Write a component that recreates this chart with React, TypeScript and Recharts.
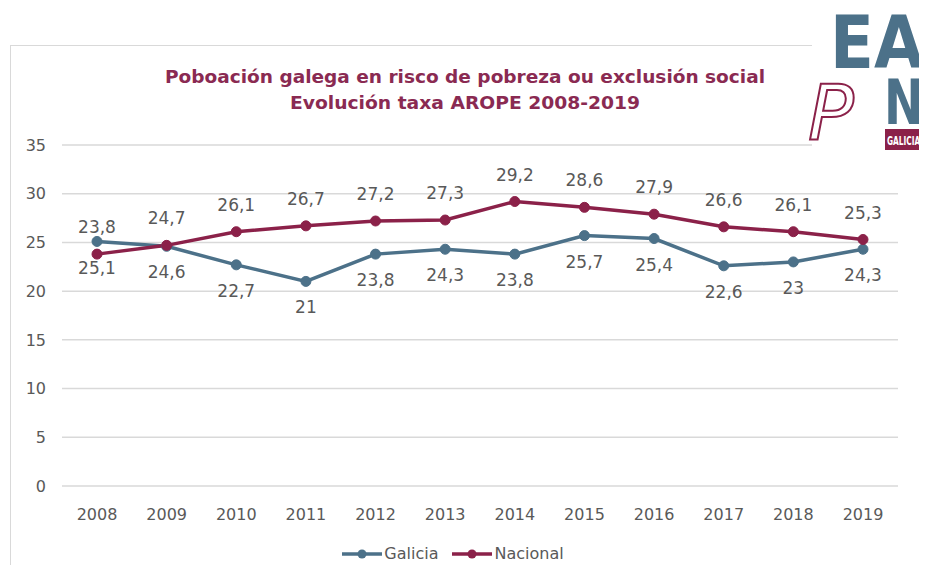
import { LineChart, Line, XAxis, YAxis, CartesianGrid, Legend, LabelList } from 'recharts';

const YEARS = ['2008', '2009', '2010', '2011', '2012', '2013', '2014', '2015', '2016', '2017', '2018', '2019'];
const GALICIA = [25.1, 24.6, 22.7, 21, 23.8, 24.3, 23.8, 25.7, 25.4, 22.6, 23, 24.3];
const NACIONAL = [23.8, 24.7, 26.1, 26.7, 27.2, 27.3, 29.2, 28.6, 27.9, 26.6, 26.1, 25.3];
const Y_TICKS = [0, 5, 10, 15, 20, 25, 30, 35];

const BLUE = '#4c7189';
const MAROON = '#8b2149';
const TEXT = '#595959';
const FONT = '"DejaVu Sans", sans-serif';

const data = YEARS.map((year, i) => ({ year, galicia: GALICIA[i], nacional: NACIONAL[i] }));

const fmt = (v: unknown) => String(v).replace('.', ',');

const SERIES = [
  { key: 'galicia', name: 'Galicia', color: BLUE },
  { key: 'nacional', name: 'Nacional', color: MAROON },
];

function LegendContent() {
  return (
    <div style={{ display: 'flex', justifyContent: 'center', gap: 14, fontFamily: FONT, fontSize: 16, color: TEXT, paddingLeft: 8, paddingTop: 6 }}>
      {SERIES.map((s) => (
        <span key={s.key} style={{ display: 'inline-flex', alignItems: 'center', gap: 2 }}>
          <svg width={40} height={12}>
            <line x1={0} y1={6} x2={40} y2={6} stroke={s.color} strokeWidth={3.5} />
            <circle cx={20} cy={6} r={4.5} fill={s.color} />
          </svg>
          {s.name}
        </span>
      ))}
    </div>
  );
}

export default function App() {
  return (
    <div style={{ position: 'relative', width: 927, height: 573, margin: -8, background: '#fff', overflow: 'hidden' }}>
      {/* frame */}
      <div style={{ position: 'absolute', left: 10, top: 45, width: 911, height: 560, border: '1px solid #d9d9d9' }} />

      <div style={{ position: 'absolute', left: 0, top: 0 }}>
        <LineChart width={927} height={573} data={data} margin={{ top: 145, right: 29, left: 0, bottom: 5 }}>
          <CartesianGrid vertical={false} stroke="#d9d9d9" strokeWidth={1.5} />
          <XAxis
            dataKey="year"
            axisLine={false}
            tickLine={false}
            tickSize={0}
            tickMargin={23}
            height={52}
            padding={{ left: 35, right: 35 }}
            tick={{ fill: TEXT, fontSize: 16, fontFamily: FONT }}
          />
          <YAxis
            domain={[0, 35]}
            ticks={Y_TICKS}
            width={62}
            axisLine={false}
            tickLine={false}
            tickSize={0}
            tickMargin={16}
            tick={{ fill: TEXT, fontSize: 16, fontFamily: FONT }}
          />
          <Legend verticalAlign="bottom" height={30} content={() => <LegendContent />} />
          <Line
            dataKey="galicia"
            name="Galicia"
            stroke={BLUE}
            strokeWidth={3.5}
            dot={{ r: 5, fill: BLUE, stroke: BLUE, strokeWidth: 1 }}
            isAnimationActive={false}
          >
            <LabelList dataKey="galicia" position="bottom" offset={20} formatter={fmt} fill={TEXT} fontSize={17} fontFamily={FONT} />
          </Line>
          <Line
            dataKey="nacional"
            name="Nacional"
            stroke={MAROON}
            strokeWidth={3.5}
            dot={{ r: 5, fill: MAROON, stroke: MAROON, strokeWidth: 1 }}
            isAnimationActive={false}
          >
            <LabelList dataKey="nacional" position="top" offset={21} formatter={fmt} fill={TEXT} fontSize={17} fontFamily={FONT} />
          </Line>
        </LineChart>
      </div>

      {/* title and logo */}
      <svg width={927} height={160} style={{ position: 'absolute', left: 0, top: 0, pointerEvents: 'none' }}>
        <g fontFamily={FONT} fontWeight="bold" fontSize={18} fill="#8a2a52" textAnchor="middle">
          <text x={465} y={83} textLength={600} lengthAdjust="spacingAndGlyphs">Poboación galega en risco de pobreza ou exclusión social</text>
          <text x={465} y={109} textLength={350} lengthAdjust="spacingAndGlyphs">Evolución taxa AROPE 2008-2019</text>
        </g>
        <rect x={812} y={0} width={115} height={155} fill="#fff" />
        <g fontFamily={FONT} fontWeight="bold">
          <text transform="translate(830,68) scale(0.88,1)" fontSize={73} fill={BLUE}>EA</text>
          <text transform="translate(884,124) scale(0.76,1)" fontSize={62} fill={BLUE}>N</text>
          <text x={808} y={140} fontSize={76} fill="none" stroke={MAROON} strokeWidth={2} fontStyle="italic" fontWeight="normal">P</text>
          <rect x={885} y={129} width={42} height={21} fill={MAROON} />
          <text transform="translate(887,145) scale(0.62,1)" fontSize={12} fill="#fff">GALICIA</text>
        </g>
      </svg>
    </div>
  );
}
